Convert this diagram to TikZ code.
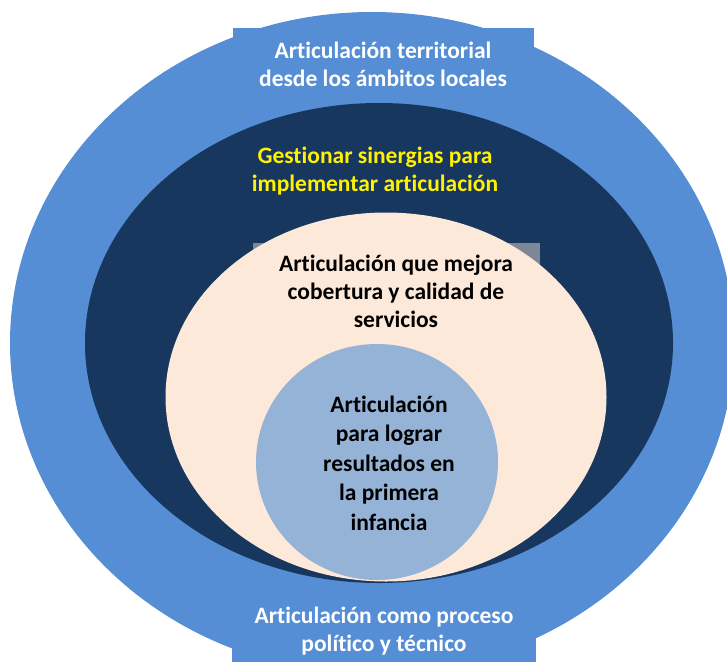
\documentclass[tikz,border=0pt]{standalone}
\usepackage{fontspec}
\setmainfont{Carlito}[Ligatures=CommonOff]
\usepackage{xcolor}
\usetikzlibrary{shapes.geometric, positioning}

\definecolor{ringblue}{HTML}{558ED5}
\definecolor{ringnavy}{HTML}{17375E}
\definecolor{ringpeach}{HTML}{FDE9D9}
\definecolor{corelight}{HTML}{95B3D7}

\begin{document}
\begin{tikzpicture}[
    x=1pt, y=-1pt,
    ring/.style={ellipse, inner sep=0pt, draw=none},
    caption/.style={rectangle, inner sep=0pt, align=center, font=\fontsize{23.5}{28}\selectfont\bfseries}
]
\useasboundingbox (0,0) rectangle (727,661);
\clip (0,0) rectangle (727,661);

% nested rings
\node[ring, fill=ringblue, minimum width=724pt, minimum height=662pt] (outer) at (372,343) {};
\node[ring, fill=ringnavy, minimum width=588pt, minimum height=480pt] (middle) at (379,343) {};
\node[ring, fill=ringpeach, minimum width=441pt, minimum height=369pt] (inner) at (386,397) {};
\node[ring, fill=corelight, minimum width=242pt, minimum height=236pt] (core) at (377,462) {};

% labels
\node[caption, fill=ringblue, text=white, minimum width=301pt, minimum height=72pt] (territorial) at (383,64)
  {Articulación territorial\\desde los ámbitos locales};
\node[caption, text=yellow] (sinergias) at (375,171)
  {Gestionar sinergias para\\implementar articulación};
\node[caption, fill=ringpeach, fill opacity=0.45, text opacity=1, text=black, minimum width=287pt, minimum height=97pt] (cobertura) at (396,291)
  {Articulación que mejora\\cobertura y calidad de\\servicios};
\node[caption, text=black, font=\fontsize{23.5}{29.5}\selectfont\bfseries] (infancia) at (389,463)
  {Articulación\\para lograr\\resultados en\\la primera\\infancia};
\node[caption, fill=ringblue, text=white, minimum width=304pt, minimum height=70pt] (proceso) at (384,631)
  {Articulación como proceso\\político y técnico};

\end{tikzpicture}
\end{document}
